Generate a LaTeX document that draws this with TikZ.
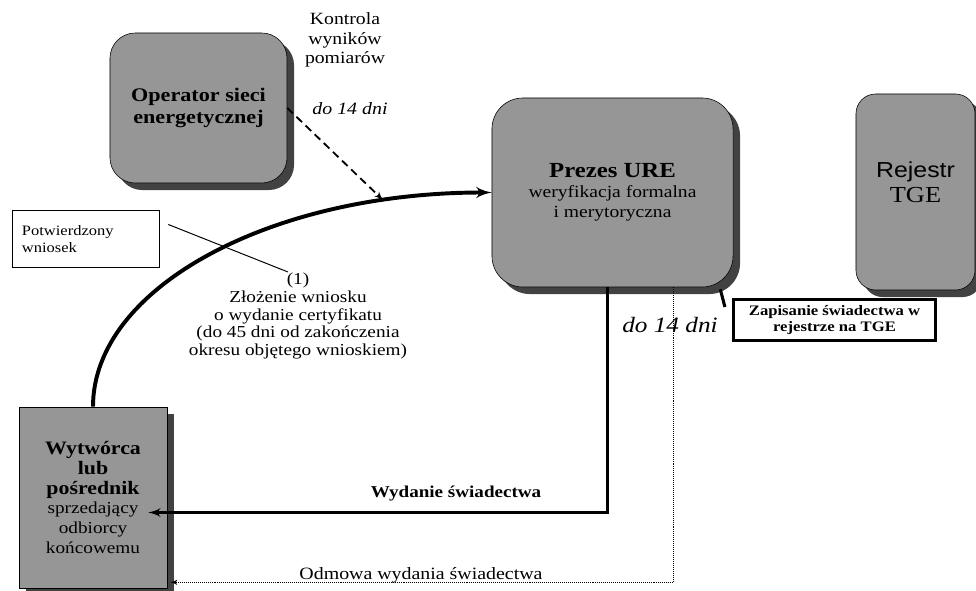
\documentclass[tikz,border=0pt]{standalone}
\usepackage{fontspec}
\setmainfont[FakeStretch=1.15]{Liberation Serif}
\newfontfamily\arialfont[FakeStretch=1.15]{Liberation Sans}
\usepackage{tikz}
\usetikzlibrary{arrows,shadows,calc}

\definecolor{boxgray}{RGB}{150,150,150}
\definecolor{shadowgray}{RGB}{66,66,66}

\newcommand{\fsize}[2]{\fontsize{#1}{#2}\selectfont}

\begin{document}
\begin{tikzpicture}[x=0.025cm, y=-0.025cm, >=latex',
  actor/.style={draw=black, fill=boxgray, align=center,
    drop shadow={shadow xshift=5pt, shadow yshift=-5pt, fill=shadowgray, opacity=1}},
  notebox/.style={draw=black, fill=white},
  txt/.style={align=center, font=\fsize{12.2}{14}},
  flow/.style={->, line width=2.6pt},
  link/.style={line width=2.6pt}]

\useasboundingbox (0,0) rectangle (976,591);

% Draw the rounded boxes
\node[actor, rounded corners=18pt, minimum width=4.425cm, minimum height=3.75cm,
  font=\fsize{13.7}{15.4}\bfseries] (oper) at (198.5,108) {Operator sieci\\energetycznej};
\node[actor, rounded corners=22pt, minimum width=6.025cm, minimum height=4.725cm,
  font=\fsize{12.1}{14.2}] (prezes) at (612.5,192.5)
  {{\fsize{15.3}{16}\bfseries Prezes URE}\\weryfikacja formalna\\i merytoryczna};
\node[actor, rounded corners=14pt, minimum width=2.975cm, minimum height=4.9cm,
  text depth=0.5cm, font=\fsize{16.3}{17.8}] (rejestr) at (915.5,192)
  {{\arialfont\fsize{15.4}{17.8}Rejestr}\\TGE};

% Draw the producer box
\node[actor, minimum width=3.7cm, minimum height=4.525cm,
  font=\fsize{11.9}{14}] (wyt) at (93,497.5)
  {{\fsize{13.5}{14}\bfseries Wytwórca}\\{\fsize{13.5}{14}\bfseries lub}\\
   {\fsize{13.5}{14}\bfseries pośrednik}\\sprzedający\\odbiorcy\\końcowemu};

% Draw the white boxes
\node[notebox, align=left, text width=3.175cm, inner xsep=0.25cm, minimum height=1.425cm,
  text depth=0.4cm, font=\fsize{10.2}{11.9}] (potw) at (85.5,238.5) {Potwierdzony\\wniosek};
\node[notebox, line width=2.2pt, align=center, minimum width=5.05cm, minimum height=1.025cm,
  font=\fsize{10.3}{11.9}\bfseries] (zapis) at (834.5,320)
  {Zapisanie świadectwa w\\rejestrze na TGE};

% Place the labels
\node[txt] (kontrola) at (345,40) {Kontrola\\wyników\\pomiarów};
\node[txt, font=\fsize{12.3}{14}\itshape] (dni1) at (350,109) {do 14 dni};
\node[txt, font=\fsize{11.9}{12.6}] (zloz) at (298,316)
  {(1)\\Złożenie wniosku\\o wydanie certyfikatu\\(do 45 dni od zakończenia\\okresu objętego wnioskiem)};
\node[txt, font=\fsize{15.6}{16}\itshape] (dni2) at (670,325) {do 14 dni};
\node[txt, font=\fsize{11.8}{13}\bfseries] (wydanie) at (456,494) {Wydanie świadectwa};
\node[txt, font=\fsize{12.3}{13}] (odmowa) at (421,575) {Odmowa wydania świadectwa};

% Draw the application curve
\draw[flow, line width=2.8pt] (wyt.north) .. controls +(0,-119) and +(-221,0) .. (prezes.west)
  coordinate[pos=0.83] (hit);
\draw[->, line width=1.3pt, dash pattern=on 5.5pt off 3.5pt] (oper.east) -- (hit);

% Draw the thin pointer line
\coordinate (zlozTip) at (288,272);
\draw[line width=0.7pt] ($(potw.east)+(9,-14)$) -- (zlozTip);

% Draw the links to the register
\draw[link] ($(prezes.east)+(0,34.5)$) -- ($(prezes.east)+(0,34.5)$ -| rejestr.west);
\draw[link, line width=2.2pt] ($(prezes.south east)+(-13,2)$) -- ($(zapis.west)+(-7,-13)$);

% Draw the answers
\draw[flow, line width=2pt] ($(prezes.south)+(-5,0)$) |- ($(wyt.east)+(-19,15)$);
\draw[->, line width=0.7pt, dash pattern=on 0.7pt off 0.7pt] ($(prezes.south)+(61,0)$)
  |- ($(wyt.south east)+(3,-6)$);

\end{tikzpicture}
\end{document}
